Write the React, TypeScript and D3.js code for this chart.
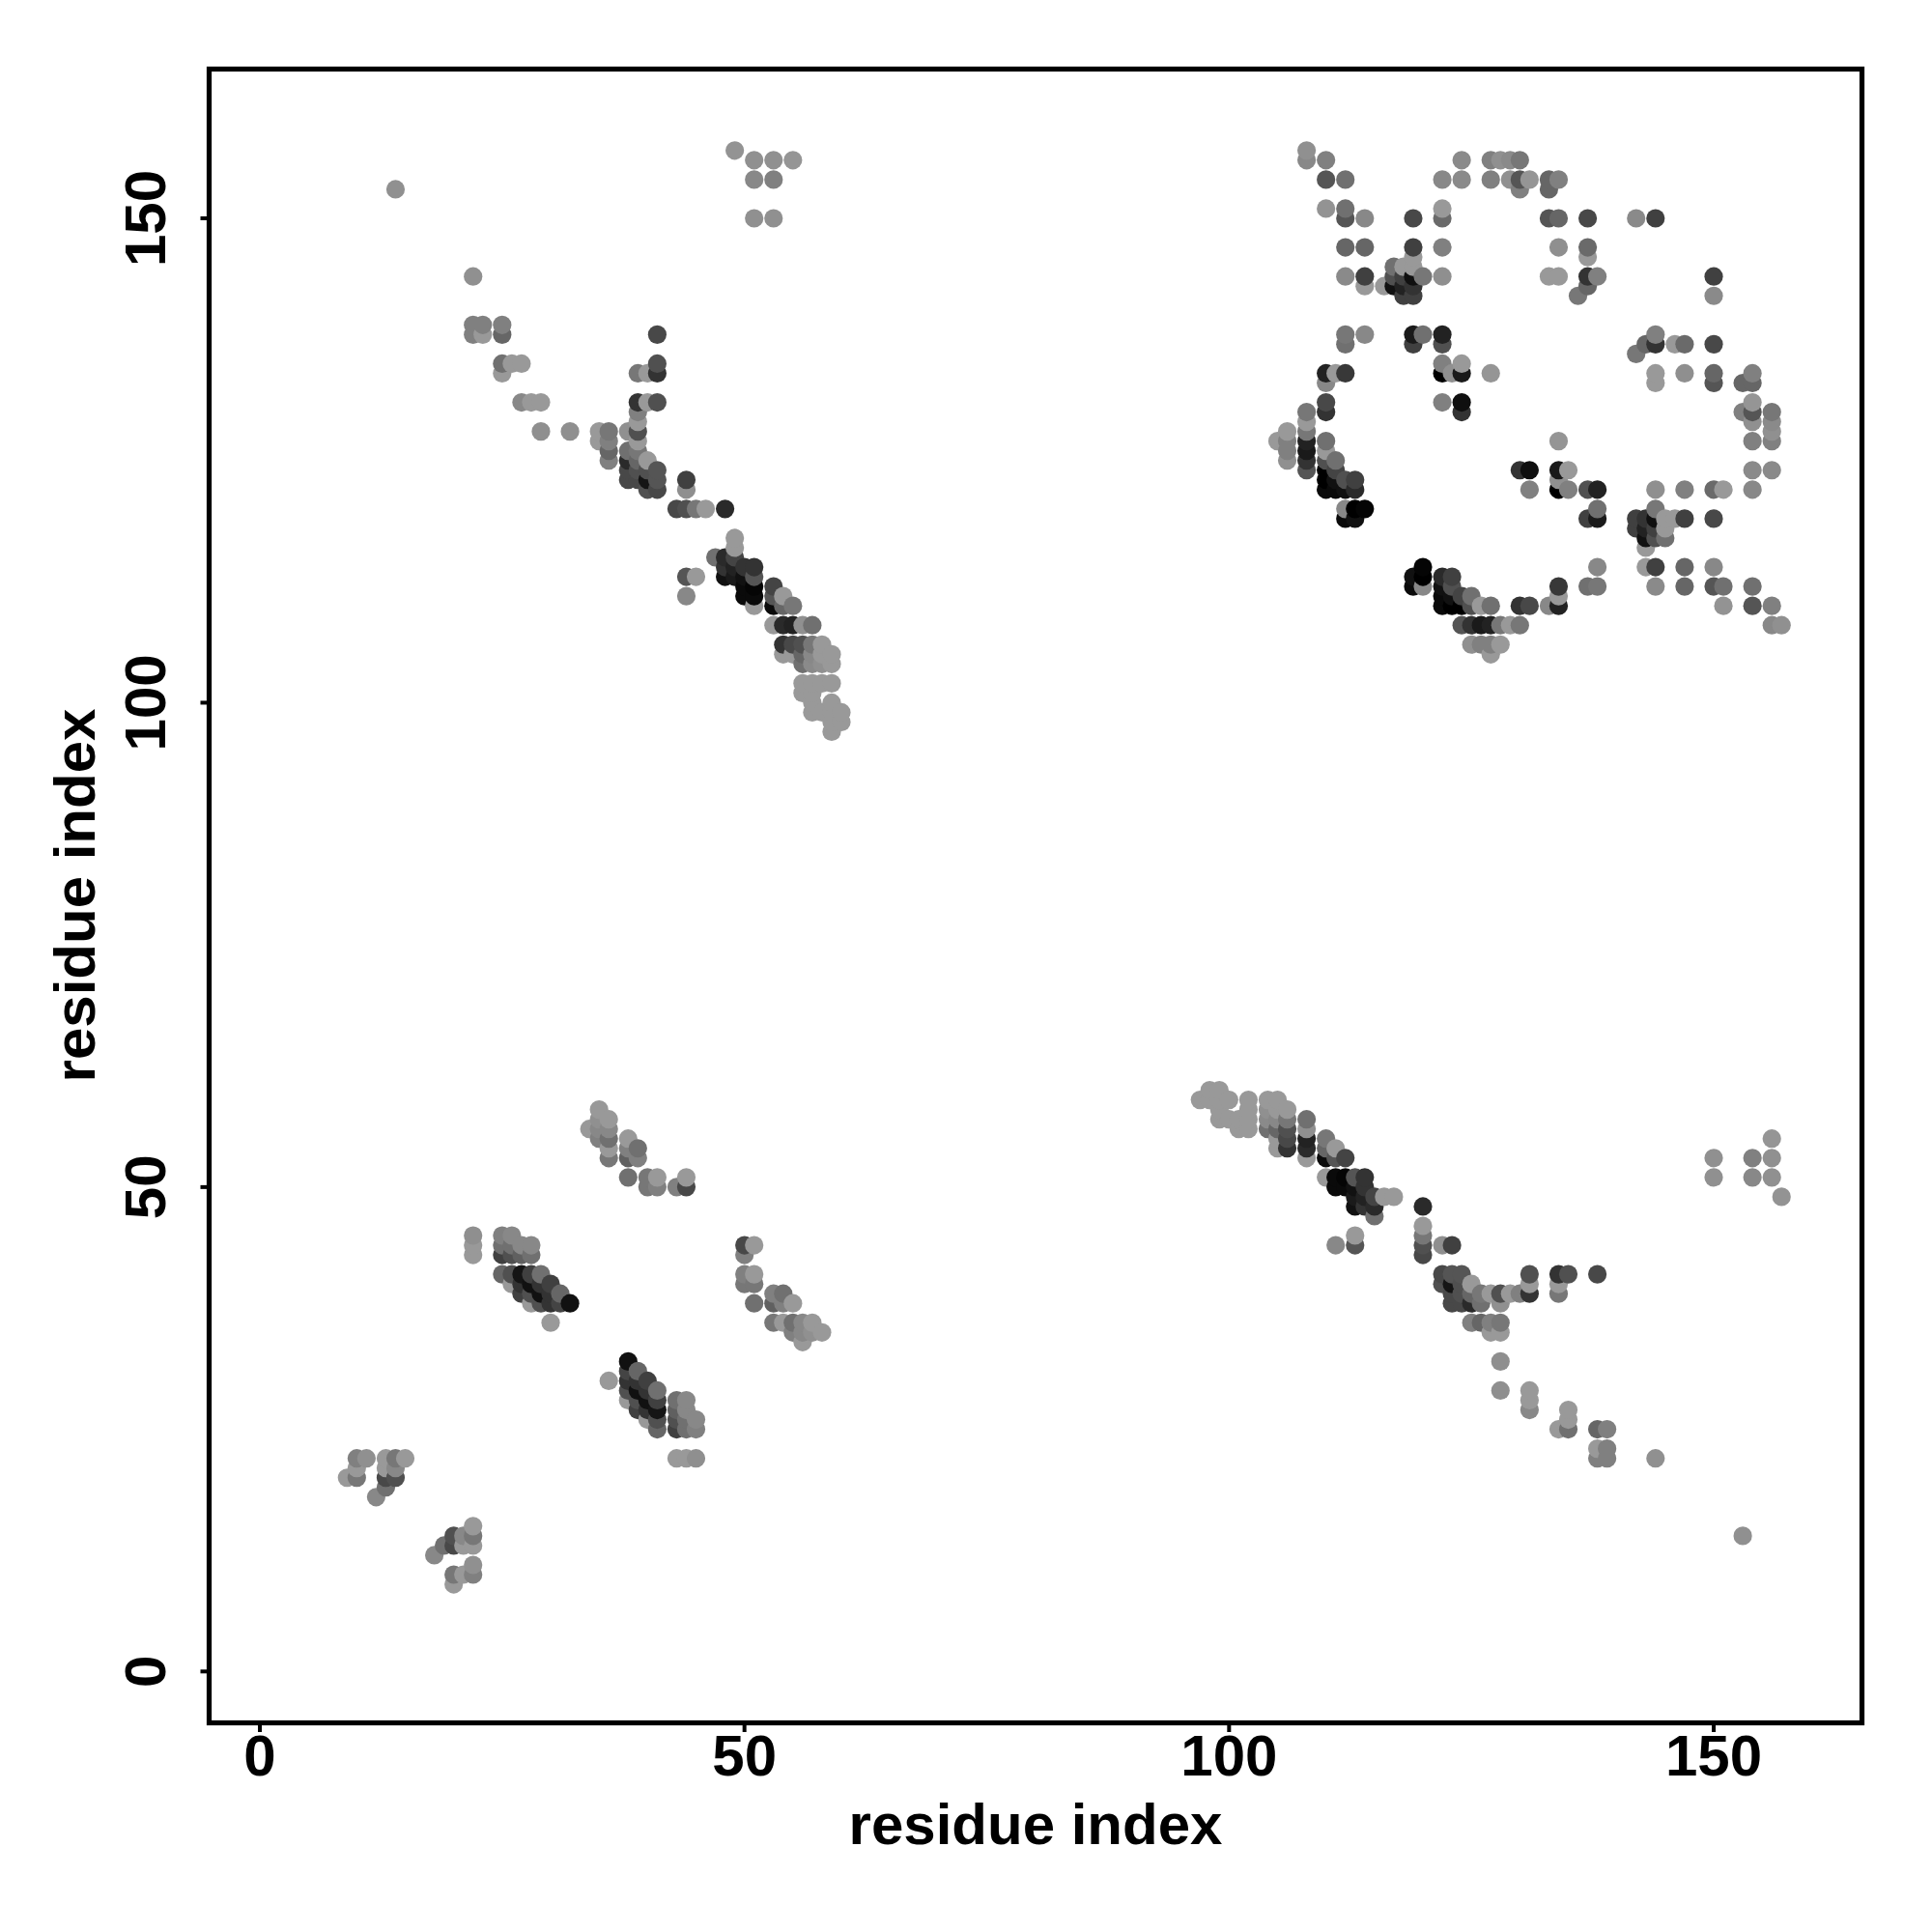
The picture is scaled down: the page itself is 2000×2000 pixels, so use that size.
import React from "react";
import * as d3 from "d3";

// Contacts: [residue a, residue b, grey level of the dot]. Each contact is shown at (a,b) and (b,a).
const lowLeftContacts: [number, number, number][] = [
  [9,20,0x99],[10,20,0x77],[10,21,0x99],[10,22,0x80],[11,22,0x90],[12,18,0x88],[13,19,0x70],[13,20,0x48],[13,21,0x99],[13,22,0x99],
  [14,20,0x50],[14,21,0x88],[14,22,0x77],[15,22,0x99],
];
const strandContacts: [number, number, number][] = [
  [22,43,0x99],[22,44,0x99],[22,45,0x8f],[25,45,0x80],[26,45,0x88],[25,44,0x70],[26,44,0x70],[27,44,0x88],[28,44,0x88],
  [25,43,0x40],[26,43,0x50],[27,43,0x60],[28,43,0x70],
  [25,41,0x66],[26,41,0x50],[27,41,0x15],[28,41,0x40],[29,41,0x70],
  [26,40,0x99],[27,40,0x33],[28,40,0x11],[29,40,0x33],[30,40,0x40],
  [27,39,0x40],[28,39,0x50],[29,39,0x11],[30,39,0x33],[31,39,0x66],
  [28,38,0x99],[29,38,0x50],[30,38,0x33],[31,38,0x44],[32,38,0x11],
  [30,36,0x99],
];
const sheetContacts: [number, number, number][] = [
  [35,58,0x99],[35,57,0x90],[36,57,0x99],[34,56,0x99],[35,56,0x88],[36,56,0x88],[35,55,0x80],[36,55,0x70],[38,55,0x99],
  [36,54,0x99],[38,54,0x80],[39,54,0x70],[36,53,0x77],[38,53,0x60],[39,53,0x80],
  [38,51,0x70],[40,51,0x77],[41,51,0x99],[44,51,0x99],[40,50,0x77],[41,50,0x80],[43,50,0x80],[44,50,0x48],
];
const farContacts: [number, number, number][] = [
  [98,60,0x99],[99,60,0x99],
  [97,59,0x99],[98,59,0x99],[99,59,0x99],[100,59,0x99],[102,59,0x99],[104,59,0x99],[105,59,0x99],
  [99,58,0x99],[102,58,0x99],[104,58,0x90],[105,58,0x99],[106,58,0x99],
  [99,57,0x99],[100,57,0x99],[101,57,0x99],[102,57,0x99],[104,57,0x8a],[105,57,0x88],[106,57,0x77],[108,57,0x70],
  [101,56,0x99],[102,56,0x99],[104,56,0x70],[105,56,0x66],[106,56,0x50],[108,56,0x90],
  [105,55,0x99],[106,55,0x48],[108,55,0x22],[110,55,0x77],
  [105,54,0x99],[106,54,0x33],[108,54,0x2a],[110,54,0x66],[111,54,0x99],
  [108,53,0x99],[110,53,0x0a],[111,53,0x55],[112,53,0x44],
  [110,51,0x99],[111,51,0x0a],[112,51,0x05],[113,51,0x55],[114,51,0x33],
  [111,50,0x0a],[112,50,0x0a],[113,50,0x11],[114,50,0x33],
  [113,49,0x1a],[114,49,0x22],[115,49,0x44],[116,49,0x99],[117,49,0x99],
  [113,48,0x11],[114,48,0x33],[115,48,0x2a],[120,48,0x2a],[115,47,0x70],
  [120,46,0x99],[113,45,0x99],[120,45,0x77],[111,44,0x88],[113,44,0x55],[120,44,0x50],[122,44,0x8f],[123,44,0x40],[120,43,0x48],
  [122,41,0x48],[123,41,0x55],[124,41,0x55],[131,41,0x50],[134,41,0x33],[135,41,0x50],[138,41,0x48],
  [122,40,0x50],[123,40,0x15],[124,40,0x50],[125,40,0x99],[131,40,0x99],[134,40,0x99],
  [123,39,0x48],[124,39,0x50],[125,39,0x66],[126,39,0x77],[127,39,0x99],[128,39,0x50],[129,39,0x99],[130,39,0x80],[131,39,0x33],[134,39,0x77],
  [123,38,0x48],[124,38,0x48],[125,38,0x2a],[126,38,0x70],[128,38,0x90],
  [125,36,0x80],[126,36,0x66],[127,36,0x80],[128,36,0x77],[127,35,0x99],[128,35,0x99],
  [128,32,0x8f],[128,29,0x8f],[131,29,0x99],[131,28,0x99],[131,27,0x88],[135,27,0x99],[135,26,0x99],
  [134,25,0x99],[135,25,0x70],[138,25,0x66],[139,25,0x80],[138,23,0x99],[139,23,0x80],[138,22,0x80],[139,22,0x80],
  [144,22,0x90],[153,14,0x90],
  [150,53,0x90],[150,51,0x90],[154,53,0x80],[154,51,0x88],[156,55,0x95],[156,53,0x90],[156,51,0x90],[157,49,0x93],
];
const domainContacts: [number, number, number][] = [
  [108,157,0x90],[108,156,0x88],[110,156,0x80],[124,156,0x8a],[127,156,0x80],[128,156,0x90],[129,156,0x8a],[130,156,0x77],
  [110,154,0x55],[112,154,0x70],[122,154,0x88],[124,154,0x8a],[127,154,0x80],[129,154,0x90],[130,154,0x55],[131,154,0x95],[133,154,0x66],[134,154,0x80],
  [130,153,0x80],[133,153,0x66],[110,151,0x93],[112,151,0x70],[122,151,0x99],
  [112,150,0x55],[114,150,0x88],[119,150,0x48],[122,150,0x6a],[133,150,0x55],[134,150,0x66],[137,150,0x48],[142,150,0x8a],[144,150,0x40],
  [112,147,0x66],[114,147,0x66],[119,147,0x40],[122,147,0x80],[134,147,0x8f],[137,147,0x6a],[119,146,0x99],[137,146,0x99],
  [117,145,0x70],[118,145,0x99],[119,145,0x99],
  [112,144,0x8a],[114,144,0x40],[117,144,0x50],[118,144,0x40],[119,144,0x10],[120,144,0x77],[122,144,0x8f],[133,144,0x99],[134,144,0x99],[137,144,0x33],[138,144,0x80],
  [114,143,0x99],[116,143,0x99],[117,143,0x11],[118,143,0x22],[119,143,0x33],[137,143,0x66],[118,142,0x40],[119,142,0x40],[136,142,0x77],
  [112,138,0x77],[114,138,0x88],[119,138,0x1a],[120,138,0x70],[122,138,0x22],[112,137,0x70],[119,137,0x40],[122,137,0x50],
  [122,135,0x80],[124,135,0x99],
  [110,134,0x22],[111,134,0x99],[112,134,0x38],[122,134,0x00],[123,134,0x90],[124,134,0x1a],[127,134,0x95],[110,133,0x88],
  [110,131,0x48],[122,131,0x80],[124,131,0x0f],[108,130,0x77],[110,130,0x33],[124,130,0x33],
  [108,129,0x99],[106,128,0x99],[108,128,0x77],[105,127,0x99],[106,127,0x80],[108,127,0x22],[110,127,0x70],
  [106,126,0x80],[108,126,0x1a],[110,126,0x99],[106,125,0x90],[108,125,0x33],[110,125,0x50],[111,125,0x70],
  [108,124,0x55],[110,124,0x00],[111,124,0x44],[110,123,0x00],[111,123,0x11],[112,123,0x50],[113,123,0x40],
  [110,122,0x0a],[111,122,0x0a],[112,122,0x11],[113,122,0x2a],[112,120,0x88],[113,120,0x00],[114,120,0x05],[112,119,0x0a],[113,119,0x11],
];

const allContacts = [
  ...lowLeftContacts, ...strandContacts, ...sheetContacts, ...farContacts, ...domainContacts,
];
const points = allContacts
  .flatMap(([a, b, g]) => [{ x: a, y: b, g }, { x: b, y: a, g }])
  .sort((p, q) => p.x - q.x || p.y - q.y);

const tickValues = [0, 50, 100, 150];
const axisTitle = "residue index";
const font = "'Liberation Sans', Arial, sans-serif";

export default function App() {
  const left = 216.5, right = 1927.5, top = 71.5, bottom = 1783.5;
  const x = d3.scaleLinear().domain([0, 150]).range([269, 1774]);
  const y = d3.scaleLinear().domain([0, 150]).range([1730.3, 226]);
  return (
    <svg width={2000} height={2000} style={{ position: "absolute", left: 0, top: 0 }}>
      <rect width={2000} height={2000} fill="#fff" />
      {points.map((p, i) => (
        <circle key={i} cx={x(p.x)} cy={y(p.y)} r={9.6} fill={d3.rgb(p.g, p.g, p.g).formatHex()} />
      ))}
      <rect x={left} y={top} width={right - left} height={bottom - top} fill="none" stroke="#000" strokeWidth={5.2} />
      {tickValues.map((t) => (
        <g key={t}>
          <line x1={x(t)} x2={x(t)} y1={bottom} y2={bottom + 9.5} stroke="#000" strokeWidth={4} />
          <text x={x(t)} y={1838} textAnchor="middle" fontFamily={font} fontWeight="bold" fontSize={60} fill="#000">{t}</text>
          <line y1={y(t)} y2={y(t)} x1={left} x2={left - 9} stroke="#000" strokeWidth={4} />
          <text transform={`translate(170.5,${y(t)}) rotate(-90)`} textAnchor="middle" fontFamily={font} fontWeight="bold" fontSize={60} fill="#000">{t}</text>
        </g>
      ))}
      <text x={1072} y={1909} textAnchor="middle" fontFamily={font} fontWeight="bold" fontSize={60} fill="#000">{axisTitle}</text>
      <text transform={`translate(98,927) rotate(-90)`} textAnchor="middle" fontFamily={font} fontWeight="bold" fontSize={60} fill="#000">{axisTitle}</text>
    </svg>
  );
}
